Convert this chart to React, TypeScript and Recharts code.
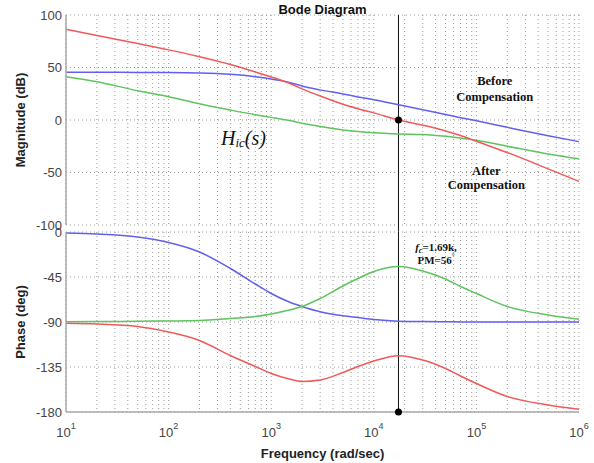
import {
  CartesianGrid,
  Line,
  LineChart,
  ReferenceDot,
  ReferenceLine,
  XAxis,
  YAxis,
} from 'recharts'

// frequency in rad/sec (log axis)
const freq = [
  10, 20, 50, 100, 200, 400, 700, 1000, 1500, 2000, 3000, 5000, 7000, 10000, 17400, 30000,
  50000, 70000, 100000, 200000, 500000, 1000000,
]

// magnitude (dB)
const magBefore = [
  45.4, 45.4, 45.3, 45.2, 44.8, 43.5, 41.2, 39, 35.8, 32.3, 28.7, 24.8, 22, 19.3, 14.5, 9.8, 5.2,
  2.2, -0.8, -7, -15, -20.6,
]
const magAfter = [
  86.5, 80.5, 72.8, 66.8, 60.2, 52.8, 45.8, 41, 35, 29.6, 22.8, 15, 10.8, 6.8, 0, -5, -10.4,
  -14.8, -20.3, -31, -46.5, -58.5,
]
const magHic = [
  41.3, 36.5, 27.8, 22.2, 15.5, 9.5, 5, 2.5, -0.5, -3, -6.2, -9.5, -11, -12.2, -13.3, -13.8,
  -15.5, -17.2, -19.3, -25, -32.4, -37,
]

// phase (deg)
const phaseBefore = [
  -1, -2, -5, -10.5, -20, -36.5, -52, -61.5, -70, -74.5, -79.8, -83.8, -85.6, -87.5, -89.2, -89.6,
  -89.8, -89.9, -90, -90, -90, -90,
]
const phaseAfter = [
  -91.3, -92, -94.5, -100, -108.5, -123.5, -134.5, -141.5, -147, -149.5, -148, -140.5, -134.5,
  -129, -123.7, -128, -136.5, -144, -151.5, -164.5, -173, -177.3,
]
const phaseHic = [
  -89.8, -89.6, -89.3, -89, -88.5, -86.5, -84.5, -82, -78, -74.5, -66.5, -54, -46.5, -39.5,
  -34.5, -39, -47, -54.5, -61.5, -74.5, -83, -87.3,
]

const magTicks = [-100, -50, 0, 50, 100]
const phaseTicks = [-180, -135, -90, -45, 0]
const decades = [10, 100, 1000, 10000, 100000, 1000000]
const freqTicks = decades.flatMap((d) =>
  d < 1000000 ? [1, 2, 3, 4, 5, 6, 7, 8, 9].map((k) => k * d) : [d],
)
const crossover = 17400

const RED = '#f05a5a'
const BLUE = '#6060f0'
const GREEN = '#5ec45e'
const FRAME = '#a9a9a9'
const GRID = '#9a9a9a'
const SANS = '"Liberation Sans", Arial, sans-serif'
const SERIF = '"Liberation Serif", "Times New Roman", serif'

const magData = freq.map((f, i) => ({
  f,
  before: magBefore[i],
  after: magAfter[i],
  hic: magHic[i],
}))
const phaseData = freq.map((f, i) => ({
  f,
  before: phaseBefore[i],
  after: phaseAfter[i],
  hic: phaseHic[i],
}))

function SideTitle({ viewBox, text }: { viewBox: any; text: string }) {
  const cx = viewBox.x - 10
  const cy = viewBox.y + viewBox.height / 2
  return (
    <text
      x={cx}
      y={cy}
      transform={`rotate(-90 ${cx} ${cy})`}
      textAnchor="middle"
      dominantBaseline="central"
      fontFamily={SANS}
      fontWeight="bold"
      fontSize={13}
      fill="#222"
    >
      {text}
    </text>
  )
}

function DecadeTick({ x, y, payload }: any) {
  const exp = Math.round(Math.log10(payload.value))
  if (Math.abs(Math.log10(payload.value) - exp) > 1e-9) return null
  return (
    <text x={x} y={y + 20} textAnchor="middle" dominantBaseline="central" fontFamily={SANS} fontSize={13} fill="#444">
      10
      <tspan dy={-6} fontSize={9}>
        {exp}
      </tspan>
    </text>
  )
}

function note(text: any, opts: { size?: number; italic?: boolean; bold?: boolean; font?: string; dy?: number } = {}) {
  return (p: any) => (
    <text
      x={p.viewBox.x}
      y={p.viewBox.y + (opts.dy ?? 0)}
      textAnchor="middle"
      dominantBaseline="central"
      fontFamily={opts.font ?? SERIF}
      fontSize={opts.size ?? 12}
      fontStyle={opts.italic ? 'italic' : 'normal'}
      fontWeight={opts.bold === false ? 'normal' : 'bold'}
      fill="#111"
    >
      {text}
    </text>
  )
}

const tickStyle = { fontFamily: SANS, fontSize: 13, fill: '#444' }

export default function App() {
  return (
    <div style={{ position: 'absolute', left: 0, top: 0, width: 594, height: 463, background: '#fff' }}>
      <div style={{ position: 'absolute', left: 0, top: 0 }}>
        <LineChart width={594} height={240} data={magData} margin={{ top: 15, right: 15, bottom: 15, left: 30 }}>
          <CartesianGrid stroke={GRID} strokeDasharray="1 3" />
          <XAxis
            dataKey="f"
            type="number"
            scale="log"
            domain={[10, 1000000]}
            ticks={freqTicks}
            interval={0}
            tick={() => <g />}
            tickLine={false}
            height={0}
            axisLine={{ stroke: FRAME, strokeWidth: 1.5 }}
          />
          <XAxis
            xAxisId="top"
            orientation="top"
            type="number"
            scale="log"
            domain={[10, 1000000]}
            tick={false}
            tickLine={false}
            height={0}
            axisLine={{ stroke: FRAME, strokeWidth: 1.5 }}
          />
          <YAxis
            type="number"
            domain={[-100, 100]}
            ticks={magTicks}
            interval={0}
            width={36}
            tickSize={0}
            tickMargin={4}
            tickLine={false}
            tick={tickStyle}
            axisLine={{ stroke: FRAME, strokeWidth: 1.5 }}
            label={(p: any) => <SideTitle viewBox={p.viewBox} text="Magnitude (dB)" />}
          />
          <YAxis
            yAxisId="right"
            orientation="right"
            type="number"
            domain={[-100, 100]}
            width={0}
            tick={false}
            tickLine={false}
            axisLine={{ stroke: FRAME, strokeWidth: 1.5 }}
          />
          <ReferenceLine
            segment={[
              { x: crossover, y: 100 },
              { x: crossover, y: -107 },
            ]}
            ifOverflow="visible"
            stroke="#111"
            strokeWidth={1}
          />
          <Line dataKey="before" type="monotone" stroke={BLUE} strokeWidth={1.5} dot={false} isAnimationActive={false} />
          <Line dataKey="hic" type="monotone" stroke={GREEN} strokeWidth={1.5} dot={false} isAnimationActive={false} />
          <Line dataKey="after" type="monotone" stroke={RED} strokeWidth={1.5} dot={false} isAnimationActive={false} />
          <ReferenceDot x={crossover} y={0} r={3.5} fill="#000" stroke="none" />
          <ReferenceDot
            x={3162}
            y={100}
            r={0}
            stroke="none"
            ifOverflow="visible"
            label={note('Bode Diagram', { font: SANS, size: 13, dy: -6 })}
          />
          <ReferenceDot x={151000} y={37} r={0} stroke="none" label={note('Before', { size: 12.5 })} />
          <ReferenceDot x={151000} y={22} r={0} stroke="none" label={note('Compensation', { size: 12.5 })} />
          <ReferenceDot x={125000} y={-48.5} r={0} stroke="none" label={note('After', { size: 12.5 })} />
          <ReferenceDot x={125000} y={-62} r={0} stroke="none" label={note('Compensation', { size: 12.5 })} />
          <ReferenceDot
            x={537}
            y={-17}
            r={0}
            stroke="none"
            label={note(
              <>
                H<tspan fontSize={13} dy={4}>ic</tspan>
                <tspan dy={-4}>(s)</tspan>
              </>,
              { size: 20, italic: true, bold: false },
            )}
          />
        </LineChart>
      </div>
      <div style={{ position: 'absolute', left: 0, top: 218 }}>
        <LineChart width={594} height={245} data={phaseData} margin={{ top: 14, right: 15, bottom: 11, left: 30 }}>
          <CartesianGrid stroke={GRID} strokeDasharray="1 3" />
          <XAxis
            dataKey="f"
            type="number"
            scale="log"
            domain={[10, 1000000]}
            ticks={freqTicks}
            interval={0}
            tick={<DecadeTick />}
            tickLine={false}
            tickSize={0}
            tickMargin={0}
            height={40}
            axisLine={{ stroke: FRAME, strokeWidth: 1.5 }}
            label={(p: any) => (
              <text
                x={p.viewBox.x + p.viewBox.width / 2}
                y={p.viewBox.y + 41}
                textAnchor="middle"
                dominantBaseline="central"
                fontFamily={SANS}
                fontWeight="bold"
                fontSize={13}
                fill="#222"
              >
                Frequency (rad/sec)
              </text>
            )}
          />
          <XAxis
            xAxisId="top"
            orientation="top"
            type="number"
            scale="log"
            domain={[10, 1000000]}
            tick={false}
            tickLine={false}
            height={0}
            axisLine={{ stroke: FRAME, strokeWidth: 1.5 }}
          />
          <YAxis
            type="number"
            domain={[-180, 0]}
            ticks={phaseTicks}
            interval={0}
            width={36}
            tickSize={0}
            tickMargin={4}
            tickLine={false}
            tick={tickStyle}
            axisLine={{ stroke: FRAME, strokeWidth: 1.5 }}
            label={(p: any) => <SideTitle viewBox={p.viewBox} text="Phase (deg)" />}
          />
          <YAxis
            yAxisId="right"
            orientation="right"
            type="number"
            domain={[-180, 0]}
            width={0}
            tick={false}
            tickLine={false}
            axisLine={{ stroke: FRAME, strokeWidth: 1.5 }}
          />
          <ReferenceLine x={crossover} stroke="#111" strokeWidth={1} />
          <Line dataKey="before" type="monotone" stroke={BLUE} strokeWidth={1.5} dot={false} isAnimationActive={false} />
          <Line dataKey="hic" type="monotone" stroke={GREEN} strokeWidth={1.5} dot={false} isAnimationActive={false} />
          <Line dataKey="after" type="monotone" stroke={RED} strokeWidth={1.5} dot={false} isAnimationActive={false} />
          <ReferenceDot x={crossover} y={-180} r={3.5} fill="#000" stroke="none" ifOverflow="visible" />
          <ReferenceDot
            x={40400}
            y={-15}
            r={0}
            stroke="none"
            label={note(
              <>
                <tspan fontStyle="italic">f</tspan>
                <tspan fontSize={8} dy={3} fontStyle="italic">c</tspan>
                <tspan dy={-3}>=1.69k,</tspan>
              </>,
              { size: 11 },
            )}
          />
          <ReferenceDot
            x={40400}
            y={-28}
            r={0}
            stroke="none"
            label={note(
              <>
                PM=56<tspan fontSize={7} dy={-4}>°</tspan>
              </>,
              { size: 11 },
            )}
          />
        </LineChart>
      </div>
    </div>
  )
}
